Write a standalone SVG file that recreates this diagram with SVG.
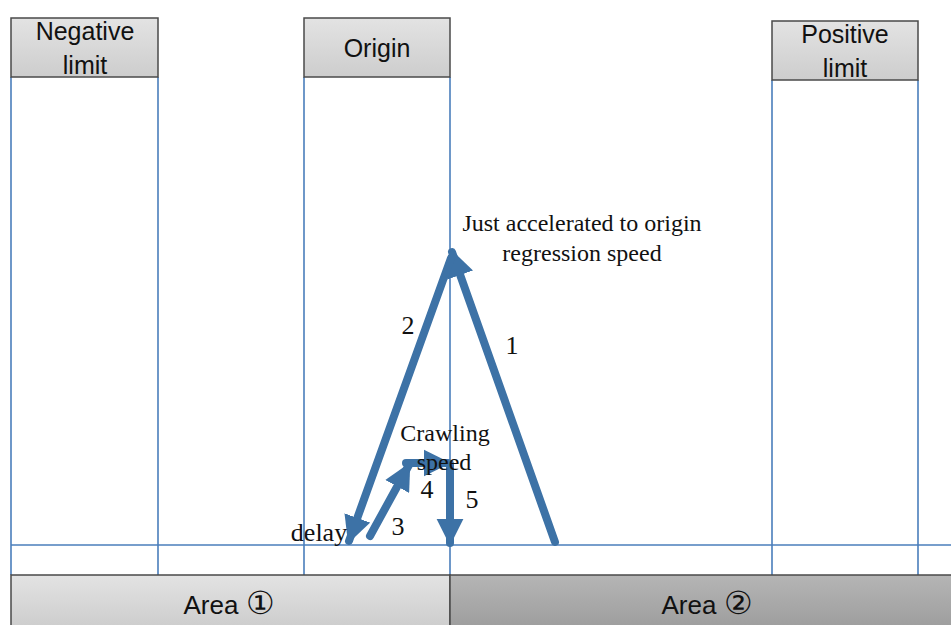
<svg xmlns="http://www.w3.org/2000/svg" width="951" height="625" viewBox="0 0 951 625">
<defs>
<linearGradient id="gl" x1="0" y1="0" x2="0" y2="1"><stop offset="0" stop-color="#e3e3e3"/><stop offset="1" stop-color="#cdcdcd"/></linearGradient>
<linearGradient id="gd" x1="0" y1="0" x2="0" y2="1"><stop offset="0" stop-color="#b5b5b5"/><stop offset="1" stop-color="#9e9e9e"/></linearGradient>
<marker id="ah" viewBox="0 0 10 10" refX="9" refY="5" markerWidth="3.4" markerHeight="3.4" orient="auto" markerUnits="strokeWidth"><path d="M0,0 L10,5 L0,10 z" fill="#3d72a6"/></marker>
<style>
.box{fill:url(#gl);stroke:#4a4a4a;stroke-width:1.5}
.bl{stroke:#4a7ebb;stroke-width:1.6;fill:none}
.arr{stroke:#3d72a6;stroke-width:8;fill:none;stroke-linecap:round;marker-end:url(#ah)}
.sans{font-family:"Liberation Sans","Open Sans",sans-serif;font-size:25px;fill:#111;text-anchor:middle}
.area{font-family:"Liberation Sans","Open Sans",sans-serif;font-size:26px;fill:#111;text-anchor:middle}
.serif{font-family:"Liberation Serif","Times New Roman",serif;font-size:24px;fill:#111;text-anchor:middle}
.num{font-family:"Liberation Serif","Times New Roman",serif;font-size:26px;fill:#111;text-anchor:middle}
</style>
</defs>
<g id="guides">
<line class="bl" x1="11" y1="77" x2="11" y2="575"/>
<line class="bl" x1="158" y1="77" x2="158" y2="575"/>
<line class="bl" x1="304" y1="77" x2="304" y2="575"/>
<line class="bl" x1="450" y1="77" x2="450" y2="575"/>
<line class="bl" x1="772" y1="80" x2="772" y2="575"/>
<line class="bl" x1="918" y1="80" x2="918" y2="575"/>
<line class="bl" x1="11" y1="545" x2="951" y2="545"/>
</g>
<g id="neg-limit">
<rect class="box" x="11" y="18" width="147" height="59"/>
<text class="sans" x="85" y="40">Negative</text>
<text class="sans" x="85" y="74">limit</text>
</g>
<g id="origin">
<rect class="box" x="304" y="18" width="146" height="59"/>
<text class="sans" x="377" y="57">Origin</text>
</g>
<g id="pos-limit">
<rect class="box" x="772" y="21" width="146" height="59"/>
<text class="sans" x="845" y="43">Positive</text>
<text class="sans" x="845" y="77">limit</text>
</g>
<g id="area1">
<rect x="11" y="575" width="439" height="52" fill="url(#gl)" stroke="#4a4a4a" stroke-width="1.5"/>
<text class="area" x="229" y="614">Area <tspan font-size="32px" style="font-size:32px">①</tspan></text>
</g>
<g id="area2">
<rect x="450" y="575" width="503" height="52" fill="url(#gd)" stroke="#4a4a4a" stroke-width="1.5"/>
<text class="area" x="707" y="614">Area <tspan style="font-size:32px">②</tspan></text>
</g>
<g id="connectors">
<line class="arr" x1="555" y1="542" x2="452" y2="252"/>
<line class="arr" x1="451" y1="258" x2="349" y2="541"/>
<line class="arr" x1="370" y1="536" x2="409" y2="465"/>
<line class="arr" x1="406" y1="463" x2="448" y2="463"/>
<line class="arr" x1="450" y1="464" x2="450" y2="543"/>
</g>
<g id="labels">
<text class="serif" x="582" y="231">Just accelerated to origin</text>
<text class="serif" x="582" y="261">regression speed</text>
<text class="num" x="408" y="334">2</text>
<text class="num" x="512" y="354">1</text>
<text class="serif" x="445" y="441">Crawling</text>
<text class="serif" x="444" y="470">speed</text>
<text class="num" x="427" y="498">4</text>
<text class="num" x="472" y="508">5</text>
<text class="num" x="398" y="535">3</text>
<text class="num" x="319" y="541">delay</text>
</g>
</svg>
